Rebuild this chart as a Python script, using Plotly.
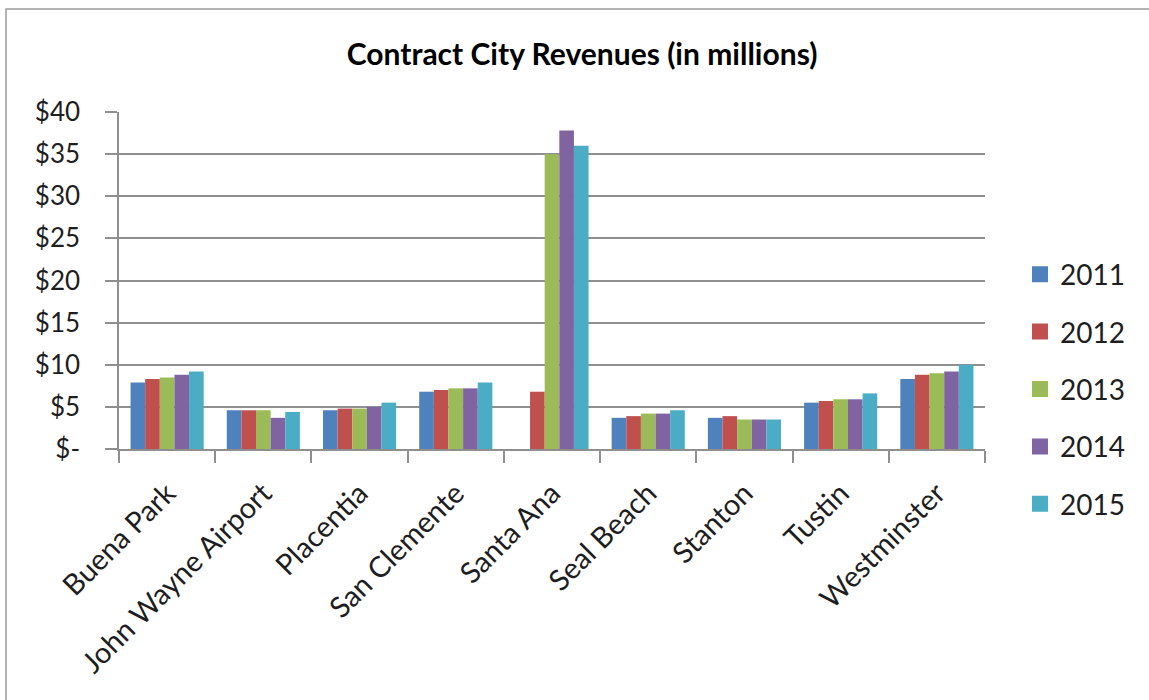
import plotly.graph_objects as go

# Contract city revenues, in millions of dollars
cities = ["Buena Park", "John Wayne Airport", "Placentia", "San Clemente",
          "Santa Ana", "Seal Beach", "Stanton", "Tustin", "Westminster"]
years = ["2011", "2012", "2013", "2014", "2015"]

rev_2011 = [7.9, 4.6, 4.6, 6.8, None, 3.7, 3.7, 5.5, 8.3]
rev_2012 = [8.3, 4.6, 4.8, 7.0, 6.8, 3.9, 3.9, 5.7, 8.8]
rev_2013 = [8.5, 4.6, 4.8, 7.2, 35.0, 4.2, 3.5, 5.9, 9.0]
rev_2014 = [8.8, 3.7, 5.0, 7.2, 37.8, 4.2, 3.5, 5.9, 9.2]
rev_2015 = [9.2, 4.4, 5.5, 7.9, 36.0, 4.6, 3.5, 6.6, 10.0]

y_ticks = [0, 5, 10, 15, 20, 25, 30, 35, 40]
y_tick_text = ["$-", "$5", "$10", "$15", "$20", "$25", "$30", "$35", "$40"]

series = [rev_2011, rev_2012, rev_2013, rev_2014, rev_2015]
colors = ["#4F81BD", "#C0504D", "#9BBB59", "#8064A2", "#4BACC6"]

FONT = "Lato"
TEXT = "#1e1e1e"
GRID = "#8f8f8f"

fig = go.Figure()

for year, vals, col in zip(years, series, colors):
    fig.add_trace(go.Bar(
        x=cities, y=vals, name=year, marker_color=col,
        marker_line_width=0, showlegend=False,
    ))

# legend entries with larger square swatches
for year, col in zip(years, colors):
    fig.add_trace(go.Scatter(
        x=[None], y=[None], mode="markers", name=year,
        marker=dict(symbol="square", size=16, color=col),
        legendgroup=year, showlegend=True,
    ))

fig.update_layout(
    width=1149, height=700,
    margin=dict(l=119, r=164, t=112, b=251, autoexpand=False),
    paper_bgcolor="white", plot_bgcolor="white",
    font=dict(family=FONT, color=TEXT, size=26),
    barmode="group", bargap=0.24, bargroupgap=0,
    title=dict(
        text="Contract City Revenues (in millions)",
        x=0.5066, xref="container", xanchor="center",
        y=1 - 54 / 700, yref="container", yanchor="middle",
        font=dict(family=FONT, size=30, color="#000000", weight=700),
    ),
    legend=dict(
        x=1.0404, xanchor="left", y=0.178, yanchor="middle",
        traceorder="grouped", tracegroupgap=18,
        font=dict(family=FONT, size=28, color=TEXT),
        bgcolor="rgba(0,0,0,0)", borderwidth=0,
    ),
    xaxis=dict(
        type="category", showgrid=False, showline=True,
        linecolor=GRID, linewidth=1.5,
        ticks="outside", tickson="boundaries", ticklen=12,
        tickcolor=GRID, tickwidth=1.5, tickangle=-45,
        ticklabelstandoff=14,
        tickfont=dict(family=FONT, size=29, color=TEXT),
        fixedrange=True,
    ),
    yaxis=dict(
        range=[0, 40], tickvals=y_ticks, ticktext=y_tick_text,
        showgrid=True, gridcolor=GRID, gridwidth=1.5,
        showline=True, linecolor=GRID, linewidth=1.5,
        ticks="outside", ticklen=12, tickcolor=GRID, tickwidth=1.5,
        ticklabelstandoff=20,
        tickfont=dict(family=FONT, size=26, color=TEXT),
        zeroline=False, fixedrange=True,
    ),
    shapes=[dict(
        type="rect", xref="paper", yref="paper",
        x0=(6 - 119) / 866, x1=(1170 - 119) / 866,
        y0=(449 - 720) / 337, y1=(449 - 9) / 337,
        line=dict(color="#9a9a9a", width=1.5), layer="below",
    )],
)

fig.write_html("out.html")
